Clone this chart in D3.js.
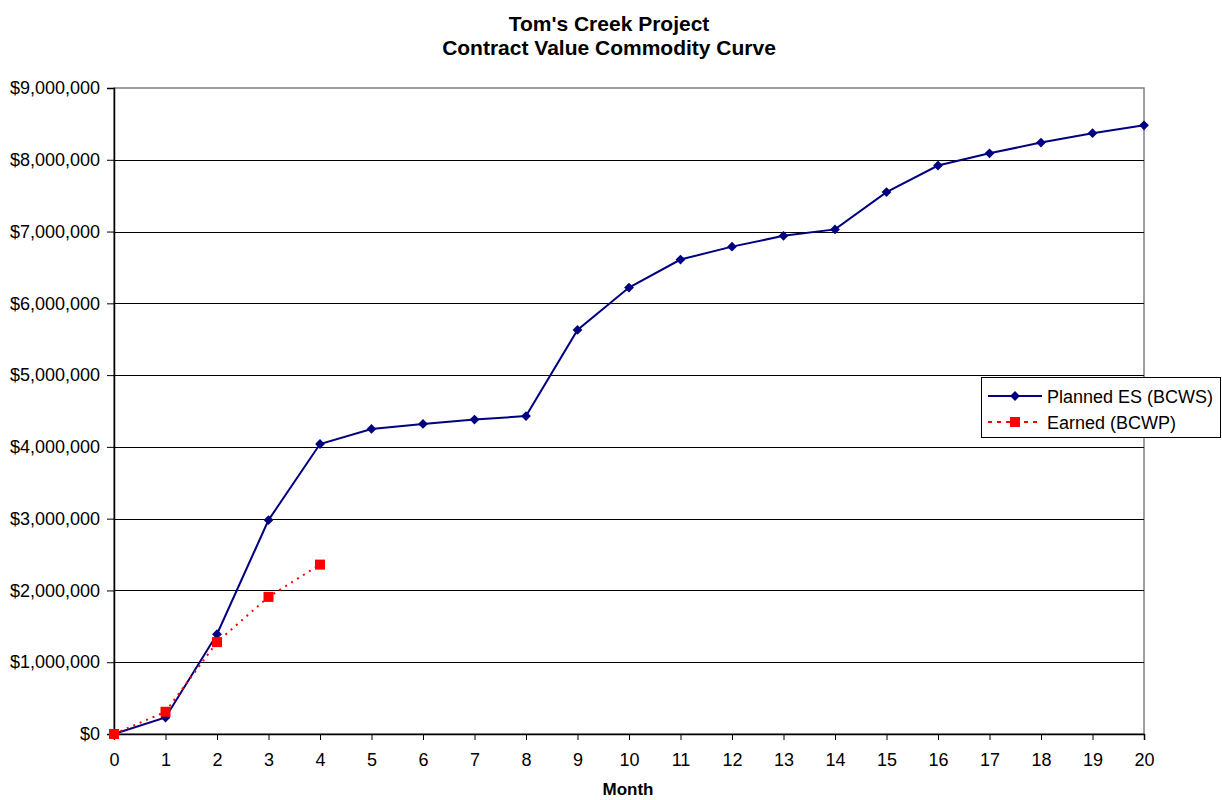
<!DOCTYPE html>
<html>
<head>
<meta charset="utf-8">
<script src="https://cdn.jsdelivr.net/npm/d3@7"></script>
<style>
  html, body { margin: 0; padding: 0; background: #fff; }
  svg { display: block; font-family: Arial, "Liberation Sans", sans-serif; }
</style>
</head>
<body>
<svg id="chart" width="1222" height="800"></svg>
<script>
const titleLines = ["Tom's Creek Project", "Contract Value Commodity Curve"];
const xTitle = "Month";
const months = [0,1,2,3,4,5,6,7,8,9,10,11,12,13,14,15,16,17,18,19,20];
const plannedES = [0, 230000, 1390000, 2980000, 4040000, 4250000, 4320000, 4380000, 4430000, 5630000, 6220000, 6610000, 6790000, 6940000, 7030000, 7550000, 7920000, 8090000, 8240000, 8370000, 8480000];
const earnedMonths = [0,1,2,3,4];
const earned = [0, 310000, 1280000, 1910000, 2360000];
const yTicks = [0,1000000,2000000,3000000,4000000,5000000,6000000,7000000,8000000,9000000];
const seriesNames = ["Planned ES (BCWS)", "Earned (BCWP)"];

(function () {
const svg = d3.select("#chart");
const pL = 114, pR = 1144, pT = 88, pB = 734;
const x = d3.scaleLinear().domain([0, 20]).range([pL, pR]);
const y = d3.scaleLinear().domain([0, 9000000]).range([pB, pT]);
const fmt = v => "$" + d3.format(",")(v);
const FONT = "Arial, 'Liberation Sans', sans-serif";

// plot frame
svg.append("rect").attr("x", pL).attr("y", pT).attr("width", pR - pL).attr("height", pB - pT)
  .attr("fill", "#fff").attr("stroke", "#808080").attr("stroke-width", 1.5);

// gridlines
svg.append("g").selectAll("line").data(yTicks.filter(d => d > 0 && d < 9000000)).join("line")
  .attr("x1", pL).attr("x2", pR)
  .attr("y1", d => Math.round(y(d)) + 0.5).attr("y2", d => Math.round(y(d)) + 0.5)
  .attr("stroke", "#000").attr("stroke-width", 1);

// y axis
const yAxis = svg.append("g").attr("transform", `translate(${pL},0)`)
  .call(d3.axisLeft(y).tickValues(yTicks).tickFormat(fmt).tickSize(7).tickPadding(7));
yAxis.select(".domain").attr("stroke", "#000").attr("stroke-width", 1.5);
yAxis.selectAll(".tick line").attr("stroke", "#000");
yAxis.selectAll("text").attr("font-size", 18).attr("fill", "#000").attr("font-family", FONT);

// x axis
const xAxis = svg.append("g").attr("transform", `translate(0,${pB})`)
  .call(d3.axisBottom(x).tickValues(months).tickFormat(d3.format("d")).tickSize(6).tickPadding(13));
xAxis.select(".domain").attr("stroke", "#000").attr("stroke-width", 1.5);
xAxis.selectAll(".tick line").attr("stroke", "#000");
xAxis.selectAll("text").attr("font-size", 18).attr("fill", "#000").attr("font-family", FONT);

// titles
svg.append("g").selectAll("text").data(titleLines).join("text")
  .attr("x", 609).attr("y", (d, i) => 31 + i * 24)
  .attr("text-anchor", "middle").attr("font-size", 21).attr("font-weight", "bold").text(d => d);
svg.append("text").attr("x", (pL + pR) / 2 - 1).attr("y", 795)
  .attr("text-anchor", "middle").attr("font-size", 17).attr("font-weight", "bold").text(xTitle);

// planned line
const navy = "#000080";
const line = d3.line().x(d => x(d[0])).y(d => y(d[1]));
const pData = months.map((m, i) => [m, plannedES[i]]);
svg.append("path").datum(pData).attr("d", line).attr("fill", "none")
  .attr("stroke", navy).attr("stroke-width", 2);
const diamondPath = d3.symbol().type(d3.symbolSquare).size(48);
svg.append("g").selectAll("path").data(pData).join("path")
  .attr("transform", d => `translate(${x(d[0])},${y(d[1])}) rotate(45)`)
  .attr("d", diamondPath).attr("fill", navy);

// earned line
const eData = earnedMonths.map((m, i) => [m, earned[i]]);
svg.append("path").datum(eData).attr("d", line).attr("fill", "none")
  .attr("stroke", "#ff0000").attr("stroke-width", 2).attr("stroke-dasharray", "2,5");
svg.append("g").selectAll("rect").data(eData).join("rect")
  .attr("x", d => x(d[0]) - 5).attr("y", d => y(d[1]) - 5).attr("width", 10).attr("height", 10)
  .attr("fill", "#ff0000");

// legend
const lg = svg.append("g");
lg.append("rect").attr("x", 981.5).attr("y", 377.5).attr("width", 239).attr("height", 60)
  .attr("fill", "#fff").attr("stroke", "#000").attr("stroke-width", 1);
const ly = [396, 422];
lg.append("line").attr("x1", 988).attr("x2", 1042).attr("y1", ly[0]).attr("y2", ly[0])
  .attr("stroke", navy).attr("stroke-width", 2);
lg.append("path").attr("transform", `translate(1015,${ly[0]}) rotate(45)`)
  .attr("d", diamondPath).attr("fill", navy);
lg.append("line").attr("x1", 988).attr("x2", 1042).attr("y1", ly[1]).attr("y2", ly[1])
  .attr("stroke", "#ff0000").attr("stroke-width", 2).attr("stroke-dasharray", "4,5");
lg.append("rect").attr("x", 1010).attr("y", ly[1] - 5).attr("width", 10).attr("height", 10).attr("fill", "#ff0000");
lg.selectAll("text.lt").data(seriesNames).join("text").attr("class", "lt")
  .attr("x", 1047).attr("y", (d, i) => ly[i] + 6.5).attr("font-size", 18).attr("fill", "#000").text(d => d);
})();
</script>
</body>
</html>
